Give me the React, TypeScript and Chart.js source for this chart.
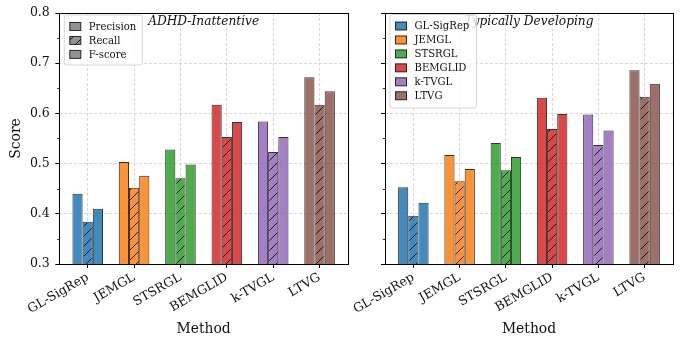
import React, { useEffect, useRef } from 'react';
import { Chart, registerables } from 'chart.js';

Chart.register(...registerables);

// ---------- data ----------
const categories = ['GL-SigRep', 'JEMGL', 'STSRGL', 'BEMGLID', 'k-TVGL', 'LTVG'];
const metricNames = ['Precision', 'Recall', 'F-score'];
const panelTitles = ['ADHD-Inattentive', 'Typically Developing'];

const adhdPrecision = [0.440, 0.503, 0.528, 0.617, 0.584, 0.672];
const adhdRecall = [0.384, 0.452, 0.471, 0.553, 0.523, 0.617];
const adhdFscore = [0.410, 0.476, 0.498, 0.583, 0.553, 0.644];

const tdPrecision = [0.453, 0.517, 0.541, 0.631, 0.598, 0.686];
const tdRecall = [0.396, 0.465, 0.487, 0.569, 0.537, 0.633];
const tdFscore = [0.422, 0.489, 0.513, 0.599, 0.566, 0.659];

const yTicks = [0.3, 0.4, 0.5, 0.6, 0.7, 0.8];
const yMinorTicks = [0.35, 0.45, 0.55, 0.65, 0.75];
const categoryColors = ['#1f77b4', '#ff7f0e', '#2ca02c', '#d62728', '#9467bd', '#8c564b'];
const legendGray = '#7f7f7f';

// ---------- styling ----------
const FONT = '"DejaVu Serif", serif';
const ALPHA = 0.85;
const EDGE = 'rgba(0,0,0,0.8)';
const HATCH = 10;

function rgba(hex: string, a: number) {
  const n = parseInt(hex.slice(1), 16);
  return `rgba(${(n >> 16) & 255},${(n >> 8) & 255},${n & 255},${a})`;
}

function hatchPattern(hex: string): CanvasPattern | string {
  const c = document.createElement('canvas');
  c.width = HATCH;
  c.height = HATCH;
  const g = c.getContext('2d');
  if (!g) return rgba(hex, ALPHA);
  g.fillStyle = rgba(hex, ALPHA);
  g.fillRect(0, 0, HATCH, HATCH);
  g.strokeStyle = EDGE;
  g.lineWidth = 1;
  g.beginPath();
  g.moveTo(0, HATCH); g.lineTo(HATCH, 0);
  g.moveTo(-HATCH / 2, HATCH / 2); g.lineTo(HATCH / 2, -HATCH / 2);
  g.moveTo(HATCH / 2, HATCH * 1.5); g.lineTo(HATCH * 1.5, HATCH / 2);
  g.stroke();
  const p = g.createPattern(c, 'repeat');
  return p || rgba(hex, ALPHA);
}

type PanelSpec = {
  index: number;
  canvasLeft: number;
  canvasWidth: number;
  yAxisWidth: number;
  padRight: number;
  showYLabels: boolean;
  values: number[][];
  legend: { label: string; color: string; hatch: boolean }[];
  legendBox: { x: number; y: number; w: number; h: number };
};

const panels: PanelSpec[] = [
  {
    index: 0,
    canvasLeft: 0,
    canvasWidth: 352,
    yAxisWidth: 59.3,
    padRight: 4,
    showYLabels: true,
    values: [adhdPrecision, adhdRecall, adhdFscore],
    legend: metricNames.map((m, i) => ({ label: m, color: legendGray, hatch: i === 1 })),
    legendBox: { x: 5, y: 2, w: 78, h: 50 },
  },
  {
    index: 1,
    canvasLeft: 340,
    canvasWidth: 340,
    yAxisWidth: 45,
    padRight: 7,
    showYLabels: false,
    values: [tdPrecision, tdRecall, tdFscore],
    legend: categories.map((c, i) => ({ label: c, color: categoryColors[i], hatch: false })),
    legendBox: { x: 5, y: 1.5, w: 86.5, h: 93.5 },
  },
];

function makeDecor(spec: PanelSpec) {
  return {
    id: 'decor' + spec.index,
    afterDraw(chart: any) {
      const { ctx, chartArea } = chart;
      const { left, right, top, bottom } = chartArea;
      const yScale = chart.scales.y;
      ctx.save();
      // minor ticks
      ctx.strokeStyle = '#000';
      ctx.lineWidth = 0.8;
      ctx.beginPath();
      for (const v of yMinorTicks) {
        const py = Math.round(yScale.getPixelForValue(v)) + 0.5;
        ctx.moveTo(left - 2.2, py);
        ctx.lineTo(left, py);
      }
      ctx.stroke();
      // spines
      ctx.lineWidth = 1;
      ctx.strokeStyle = '#000';
      const l = Math.floor(left) + 0.5;
      const r = Math.floor(right) + 0.5;
      const t = Math.floor(top) + 0.5;
      const b = Math.floor(bottom) + 0.5;
      ctx.strokeRect(l, t, r - l, b - t);
      // title
      ctx.fillStyle = '#111';
      ctx.font = `italic 12.2px ${FONT}`;
      ctx.textAlign = 'center';
      ctx.textBaseline = 'middle';
      ctx.fillText(panelTitles[spec.index], (left + right) / 2, 22);
      // axis titles
      ctx.font = `13.9px ${FONT}`;
      ctx.fillText('Method', (left + right) / 2, 329);
      if (spec.showYLabels) {
        ctx.save();
        ctx.translate(16, (top + bottom) / 2);
        ctx.rotate(-Math.PI / 2);
        ctx.fillText('Score', 0, 0);
        ctx.restore();
      }
      // legend
      const lb = spec.legendBox;
      const bx = left + lb.x;
      const by = top + lb.y;
      ctx.beginPath();
      ctx.roundRect(bx, by, lb.w, lb.h, 2.5);
      ctx.fillStyle = 'rgba(255,255,255,0.8)';
      ctx.fill();
      ctx.strokeStyle = 'rgba(204,204,204,0.8)';
      ctx.lineWidth = 1;
      ctx.stroke();
      ctx.font = `10.1px ${FONT}`;
      ctx.textAlign = 'left';
      ctx.textBaseline = 'middle';
      spec.legend.forEach((item, i) => {
        const cy = by + 11.5 + i * 13.95;
        const sx = bx + 5.5;
        const sw = 11;
        const sh = 8;
        ctx.fillStyle = item.hatch ? hatchPattern(item.color) : rgba(item.color, ALPHA);
        ctx.fillRect(sx, cy - sh / 2, sw, sh);
        ctx.strokeStyle = EDGE;
        ctx.lineWidth = 1;
        ctx.strokeRect(sx, cy - sh / 2, sw, sh);
        ctx.fillStyle = '#111';
        ctx.fillText(item.label, sx + sw + 8, cy + 0.5);
      });
      ctx.restore();
    },
  };
}

const gridOpts = {
  color: 'rgba(190,190,190,0.75)',
  lineWidth: 0.8,
  tickColor: '#000',
  tickLength: 4,
  tickWidth: 1,
  tickBorderDash: [],
  offset: false,
};

function makeConfig(spec: PanelSpec): any {
  const solid = categoryColors.map((c) => rgba(c, ALPHA));
  const hatched = categoryColors.map((c) => hatchPattern(c));
  const datasets = spec.values.map((vals, m) => ({
    label: metricNames[m],
    data: vals.map((v, i) => ({ x: i, y: v })),
    backgroundColor: m === 1 ? hatched : solid,
    borderColor: EDGE,
    borderWidth: 1,
    categoryPercentage: 0.66,
    barPercentage: 1.0,
  }));
  return {
    type: 'bar',
    data: { datasets },
    plugins: [makeDecor(spec)],
    options: {
      animation: false,
      responsive: false,
      devicePixelRatio: 1,
      layout: { padding: { left: 0, top: 12, right: spec.padRight, bottom: 0 } },
      plugins: { legend: { display: false }, tooltip: { enabled: false } },
      scales: {
        x: {
          type: 'linear',
          offset: false,
          min: -0.613,
          max: 5.613,
          afterBuildTicks: (scale: any) => {
            scale.ticks = categories.map((_, i) => ({ value: i }));
          },
          afterFit: (scale: any) => {
            scale.height = 75;
          },
          grid: gridOpts,
          border: { display: false, dash: [3, 2] },
          ticks: {
            autoSkip: false,
            minRotation: 30,
            maxRotation: 30,
            padding: 2,
            color: '#111',
            font: { family: FONT, size: 12.5 },
            callback: (v: number) => categories[Math.round(v)] ?? '',
          },
        },
        y: {
          min: 0.3,
          max: 0.8,
          afterBuildTicks: (scale: any) => {
            scale.ticks = yTicks.map((v) => ({ value: v }));
          },
          afterFit: (scale: any) => {
            scale.width = spec.yAxisWidth;
          },
          grid: gridOpts,
          border: { display: false, dash: [3, 2] },
          ticks: {
            padding: 5.5,
            color: '#111',
            font: { family: FONT, size: 12.5 },
            callback: (v: number) => (spec.showYLabels ? Number(v).toFixed(1) : ''),
          },
        },
      },
    },
  };
}

function Panel({ spec }: { spec: PanelSpec }) {
  const ref = useRef<HTMLCanvasElement>(null);
  useEffect(() => {
    if (!ref.current) return;
    const chart = new Chart(ref.current, makeConfig(spec));
    return () => chart.destroy();
  }, [spec]);
  return (
    <canvas
      ref={ref}
      width={spec.canvasWidth}
      height={339}
      style={{ position: 'absolute', left: spec.canvasLeft, top: 0, width: spec.canvasWidth, height: 339 }}
    />
  );
}

export default function App() {
  return (
    <div style={{ position: 'absolute', left: 0, top: 0, width: 680, height: 339, background: '#fff', overflow: 'hidden' }}>
      {panels.map((p) => (
        <Panel key={p.index} spec={p} />
      ))}
    </div>
  );
}
